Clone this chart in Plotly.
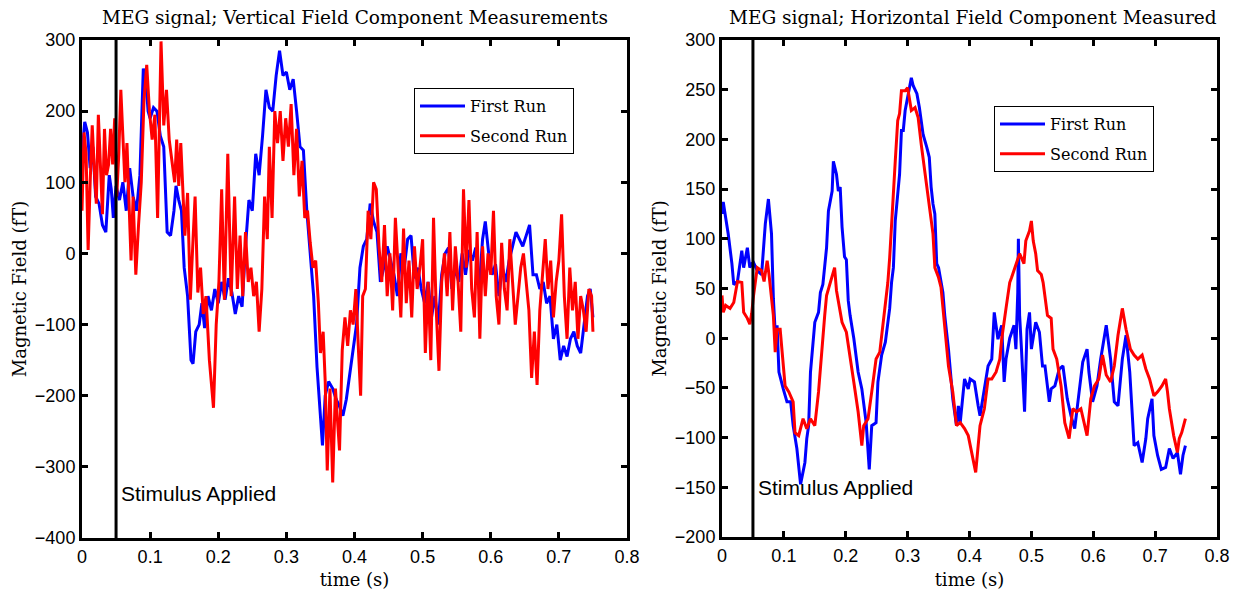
import plotly.graph_objects as go

# ---------------- Left panel: vertical field component ----------------
lb_t = [0.000,0.004,0.008,0.012,0.016,0.020,0.025,0.030,0.035,0.040,0.043,0.046,0.050,0.055,0.060,0.065,0.070,0.075,0.080,0.085,
        0.090,0.094,0.097,0.100,0.105,0.110,0.115,0.120,0.125,0.130,0.135,0.138,0.142,0.146,0.150,0.155,0.160,0.163,0.167,0.172,
        0.176,0.180,0.185,0.190,0.195,0.200,0.205,0.210,0.215,0.220,0.225,0.230,0.235,0.240,0.245,0.250,0.255,0.260,0.265,0.270,
        0.275,0.280,0.285,0.290,0.295,0.300,0.305,0.310,0.315,0.320,0.325,0.330,0.335,0.340,0.345,0.350,0.353,0.357,0.362,0.368,
        0.373,0.378,0.383,0.388,0.393,0.398,0.403,0.408,0.413,0.418,0.423,0.428,0.433,0.438,0.443,0.448,0.453,0.458,0.463,0.468,
        0.473,0.478,0.483,0.488,0.493,0.498,0.503,0.508,0.513,0.518,0.523,0.528,0.533,0.538,0.543,0.548,0.553,0.558,0.563,0.568,
        0.573,0.578,0.583,0.588,0.592,0.597,0.602,0.607,0.612,0.617,0.622,0.627,0.632,0.637,0.642,0.647,0.652,0.657,0.662,0.667,
        0.672,0.677,0.682,0.687,0.692,0.697,0.702,0.707,0.712,0.717,0.722,0.727,0.732,0.737,0.742,0.746,0.750]
lb_v = [140,185,170,120,150,80,70,40,30,110,90,50,95,75,100,60,120,80,60,110,
        260,240,200,190,205,200,165,150,30,25,60,95,75,60,-20,-60,-150,-155,-110,-100,
        -70,-105,-60,-80,-50,-70,-40,-65,-35,-55,-85,-60,-75,10,75,60,140,110,165,230,
        205,200,250,285,250,255,230,245,200,150,145,60,0,-60,-160,-230,-270,-200,-180,-190,
        -205,-215,-228,-205,-170,-140,-100,-20,10,20,70,45,30,-40,-20,10,-10,-30,-60,0,
        -20,20,25,-35,-20,-50,-70,-40,-90,-60,-100,-30,0,8,-50,-20,-40,0,-30,5,
        -10,8,-50,20,45,0,-30,-15,-60,-20,-40,-10,10,30,20,10,25,40,-30,-30,
        -50,-40,-70,-60,-120,-100,-150,-130,-145,-120,-110,-130,-140,-100,-60,-50,-90]

lr_t = [0.000,0.003,0.006,0.009,0.012,0.015,0.018,0.021,0.024,0.027,0.030,0.033,0.036,0.039,0.042,0.045,0.048,0.051,0.054,0.057,
        0.060,0.063,0.066,0.069,0.072,0.075,0.079,0.083,0.087,0.091,0.095,0.099,0.103,0.107,0.111,0.116,0.120,0.124,0.128,0.132,
        0.136,0.139,0.142,0.145,0.148,0.151,0.155,0.159,0.163,0.166,0.170,0.174,0.178,0.182,0.187,0.193,0.197,0.201,0.205,0.209,
        0.214,0.219,0.224,0.228,0.232,0.236,0.240,0.244,0.248,0.252,0.256,0.260,0.264,0.268,0.272,0.275,0.279,0.283,0.287,0.291,
        0.295,0.299,0.303,0.307,0.311,0.315,0.319,0.323,0.327,0.331,0.335,0.339,0.343,0.347,0.350,0.354,0.357,0.360,0.364,0.368,
        0.372,0.375,0.378,0.382,0.386,0.390,0.394,0.398,0.402,0.406,0.409,0.412,0.416,0.420,0.424,0.428,0.432,0.436,0.440,0.444,
        0.448,0.452,0.456,0.460,0.464,0.468,0.472,0.476,0.480,0.484,0.488,0.492,0.496,0.500,0.504,0.508,0.512,0.516,0.520,0.524,
        0.528,0.532,0.536,0.540,0.544,0.548,0.552,0.556,0.560,0.564,0.568,0.572,0.576,0.580,0.584,0.588,0.592,0.596,0.600,0.604,
        0.608,0.612,0.616,0.620,0.624,0.628,0.632,0.636,0.640,0.644,0.648,0.652,0.656,0.660,0.664,0.668,0.672,0.676,0.680,0.684,
        0.688,0.692,0.696,0.700,0.704,0.708,0.712,0.716,0.720,0.724,0.728,0.732,0.736,0.740,0.744,0.748,0.750]
lr_v = [60,170,140,5,100,180,120,70,195,130,55,175,110,125,175,125,190,80,140,230,
        160,100,155,60,-10,80,-30,40,100,215,265,200,160,195,50,298,180,230,160,130,
        100,160,95,155,100,25,85,-65,20,80,-55,-20,-85,-60,-150,-217,-100,-40,90,-65,
        140,-60,80,-50,25,-60,30,-40,-20,-60,-40,-110,-50,80,20,150,50,200,155,200,
        130,190,150,210,110,175,80,130,50,60,15,-20,-10,-70,-140,-110,-180,-305,-190,-322,
        -190,-240,-277,-136,-90,-130,-80,-100,-50,-140,-200,-60,-50,60,20,100,90,10,-40,40,
        -60,0,-80,50,-30,-90,35,-70,-10,-90,10,-50,-20,20,-140,-40,-150,50,-80,-165,
        -40,0,-60,30,-80,10,-40,-110,90,-20,75,-50,-90,30,-120,10,-60,0,-30,60,
        -60,-100,15,-50,-80,20,-40,-100,-60,-20,0,-40,-80,-175,-110,-185,-80,-30,20,-50,
        -10,-90,-40,-10,55,-60,-120,-20,-80,-40,-120,-60,-80,-110,-50,-60,-110]

# ---------------- Right panel: horizontal field component ----------------
rb_t = [0.000,0.002,0.006,0.010,0.016,0.019,0.025,0.032,0.035,0.041,0.045,0.048,0.051,0.057,0.064,0.070,0.075,0.080,0.083,0.086,
        0.089,0.092,0.099,0.105,0.111,0.115,0.121,0.127,0.134,0.137,0.140,0.143,0.150,0.156,0.159,0.163,0.169,0.172,0.178,0.180,
        0.185,0.188,0.191,0.194,0.198,0.201,0.204,0.207,0.213,0.220,0.226,0.233,0.238,0.242,0.249,0.252,0.258,0.264,0.271,0.274,
        0.277,0.280,0.284,0.287,0.290,0.293,0.296,0.300,0.303,0.306,0.309,0.315,0.319,0.325,0.331,0.335,0.338,0.341,0.344,0.347,
        0.350,0.354,0.357,0.360,0.366,0.373,0.379,0.382,0.385,0.392,0.398,0.401,0.408,0.414,0.417,0.424,0.430,0.436,0.440,0.446,
        0.452,0.456,0.459,0.465,0.472,0.475,0.478,0.479,0.481,0.484,0.489,0.493,0.497,0.500,0.507,0.513,0.518,0.522,0.529,0.532,
        0.538,0.545,0.551,0.558,0.564,0.570,0.577,0.583,0.590,0.593,0.599,0.606,0.612,0.621,0.628,0.634,0.640,0.647,0.653,0.659,
        0.666,0.672,0.679,0.685,0.688,0.695,0.698,0.704,0.710,0.717,0.723,0.729,0.736,0.741,0.745,0.749]
rb_v = [125,137,121,105,75,54,57,88,71,91,71,75,76,68,64,115,140,105,40,6,
        13,-34,-51,-64,-64,-88,-111,-147,-125,-101,-88,-34,16,26,46,54,91,128,148,178,
        165,148,152,112,82,79,38,23,0,-34,-51,-85,-132,-88,-85,-44,-17,-4,30,56,
        71,118,145,165,209,209,229,242,251,262,254,246,232,205,192,182,152,135,125,75,
        71,54,46,23,-11,-61,-88,-68,-85,-41,-51,-41,-44,-68,-78,-51,-28,-21,26,-1,
        13,-44,-21,0,13,-11,46,100,23,-11,-74,9,26,-11,16,6,-28,-28,-64,-51,
        -48,-31,-28,-61,-78,-91,-54,-24,-11,-34,-64,-48,-21,13,-21,-64,-68,-21,3,-34,
        -108,-105,-125,-101,-81,-61,-98,-118,-132,-130,-111,-121,-115,-137,-118,-108]

rr_t = [0.000,0.002,0.006,0.013,0.019,0.025,0.032,0.035,0.041,0.045,0.048,0.051,0.057,0.064,0.068,0.073,0.076,0.080,0.083,0.086,
        0.089,0.094,0.099,0.102,0.108,0.115,0.118,0.124,0.131,0.137,0.143,0.150,0.156,0.161,0.166,0.169,0.175,0.182,0.185,0.188,
        0.194,0.201,0.207,0.213,0.220,0.226,0.229,0.236,0.242,0.249,0.255,0.261,0.268,0.271,0.277,0.280,0.284,0.287,0.290,0.296,
        0.300,0.303,0.306,0.312,0.317,0.322,0.328,0.335,0.341,0.344,0.350,0.354,0.357,0.360,0.366,0.373,0.379,0.385,0.392,0.398,
        0.405,0.410,0.414,0.417,0.424,0.430,0.436,0.443,0.449,0.452,0.459,0.465,0.468,0.475,0.481,0.488,0.491,0.497,0.500,0.503,
        0.507,0.510,0.516,0.519,0.526,0.532,0.535,0.541,0.548,0.554,0.561,0.567,0.573,0.580,0.586,0.590,0.596,0.602,0.609,0.615,
        0.621,0.628,0.634,0.640,0.647,0.653,0.660,0.666,0.672,0.679,0.685,0.691,0.698,0.704,0.711,0.717,0.720,0.723,0.730,0.736,
        0.739,0.743,0.749]
rr_v = [43,26,33,30,36,57,56,26,20,14,25,43,71,68,57,78,64,37,23,-14,
        9,9,-28,-48,-54,-64,-95,-98,-81,-91,-81,-88,-54,-11,23,43,57,71,48,36,
        16,6,-21,-44,-74,-108,-88,-81,-54,-21,-14,16,56,81,152,178,219,226,249,249,
        252,242,229,232,222,195,165,135,105,71,61,51,30,13,-28,-54,-88,-85,-91,-98,
        -118,-135,-108,-88,-71,-41,-41,-34,-21,-1,30,56,61,75,85,75,98,108,118,98,
        85,68,64,56,23,20,-11,-21,-48,-85,-101,-71,-74,-71,-88,-98,-61,-48,-41,-17,
        -37,-44,-28,3,30,9,-11,-17,-21,-17,-31,-41,-58,-54,-48,-41,-54,-71,-98,-115,
        -101,-95,-81]

stimulus_time = 0.05
xticks = [0, 0.1, 0.2, 0.3, 0.4, 0.5, 0.6, 0.7, 0.8]
xtick_text = ["0", "0.1", "0.2", "0.3", "0.4", "0.5", "0.6", "0.7", "0.8"]
left_yticks = [-400, -300, -200, -100, 0, 100, 200, 300]
right_yticks = [-200, -150, -100, -50, 0, 50, 100, 150, 200, 250, 300]

BLUE = "rgb(0,0,255)"
RED = "rgb(255,0,0)"
SERIF = "DejaVu Serif, serif"
SANS = "Liberation Sans, Arial, sans-serif"

fig = go.Figure()
fig.add_trace(go.Scatter(x=lb_t, y=lb_v, mode="lines", name="First Run", line=dict(color=BLUE, width=3),
                         xaxis="x", yaxis="y", legend="legend", legendgroup="a"))
fig.add_trace(go.Scatter(x=lr_t, y=lr_v, mode="lines", name="Second Run", line=dict(color=RED, width=3),
                         xaxis="x", yaxis="y", legend="legend", legendgroup="b"))
fig.add_trace(go.Scatter(x=rb_t, y=rb_v, mode="lines", name="First Run", line=dict(color=BLUE, width=3),
                         xaxis="x2", yaxis="y2", legend="legend2", legendgroup="c"))
fig.add_trace(go.Scatter(x=rr_t, y=rr_v, mode="lines", name="Second Run", line=dict(color=RED, width=3),
                         xaxis="x2", yaxis="y2", legend="legend2", legendgroup="d"))

W, H = 1238, 590
def fx(px):
    return px / W
def fy(py):
    return 1 - py / H

axis_common = dict(showline=True, linewidth=3, linecolor="black", mirror="ticks", ticks="inside",
                   ticklen=6, tickwidth=3, tickcolor="black", showgrid=False, zeroline=False,
                   automargin=False, tickfont=dict(family=SANS, size=18, color="black"))
title_font = dict(family=SERIF, size=18, color="black")

fig.update_layout(
    width=W, height=H, margin=dict(l=0, r=0, t=0, b=0, autoexpand=False),
    paper_bgcolor="white", plot_bgcolor="white",
    xaxis=dict(domain=[fx(82), fx(627)], range=[0, 0.8], tickvals=xticks, ticktext=xtick_text,
               anchor="y", title=dict(text="time (s)", font=title_font, standoff=9),
               **axis_common),
    yaxis=dict(domain=[fy(538), fy(40)], range=[-400, 300], tickvals=left_yticks,
               anchor="x", title=dict(text="Magnetic Field (fT)", font=title_font, standoff=4),
               **axis_common),
    xaxis2=dict(domain=[fx(722), fx(1217)], range=[0, 0.8], tickvals=xticks, ticktext=xtick_text,
                anchor="y2", title=dict(text="time (s)", font=title_font, standoff=9),
                **axis_common),
    yaxis2=dict(domain=[fy(537), fy(40)], range=[-200, 300], tickvals=right_yticks,
                anchor="x2", title=dict(text="Magnetic Field (fT)", font=title_font, standoff=4),
                **axis_common),
    legend=dict(x=fx(414), y=fy(88), xanchor="left", yanchor="top", bgcolor="white",
                bordercolor="black", borderwidth=1, font=dict(family=SERIF, size=16, color="black"),
                itemwidth=45, tracegroupgap=6),
    legend2=dict(x=fx(994), y=fy(106), xanchor="left", yanchor="top", bgcolor="white",
                 bordercolor="black", borderwidth=1, font=dict(family=SERIF, size=16, color="black"),
                 itemwidth=45, tracegroupgap=6),
    showlegend=True,
)

for xa, ya in (("x", "y"), ("x2", "y2")):
    fig.add_shape(type="line", xref=xa, yref=f"{ya} domain", x0=stimulus_time, x1=stimulus_time, y0=0, y1=1,
                  line=dict(color="black", width=3))

fig.add_annotation(x=stimulus_time, y=-337, xref="x", yref="y", text="Stimulus Applied", showarrow=False,
                   xanchor="left", xshift=3, font=dict(family=SANS, size=21, color="black"))
fig.add_annotation(x=stimulus_time, y=-150, xref="x2", yref="y2", text="Stimulus Applied", showarrow=False,
                   xanchor="left", xshift=3, font=dict(family=SANS, size=21, color="black"))

fig.add_annotation(x=fx(355), y=fy(18), xref="paper", yref="paper", text="MEG signal; Vertical Field Component Measurements",
                   showarrow=False, xanchor="center", yanchor="middle", font=dict(family=SERIF, size=18.5, color="black"))
fig.add_annotation(x=fx(973), y=fy(18), xref="paper", yref="paper", text="MEG signal; Horizontal Field Component Measured",
                   showarrow=False, xanchor="center", yanchor="middle", font=dict(family=SERIF, size=18.5, color="black"))

fig.write_html("out.html")
